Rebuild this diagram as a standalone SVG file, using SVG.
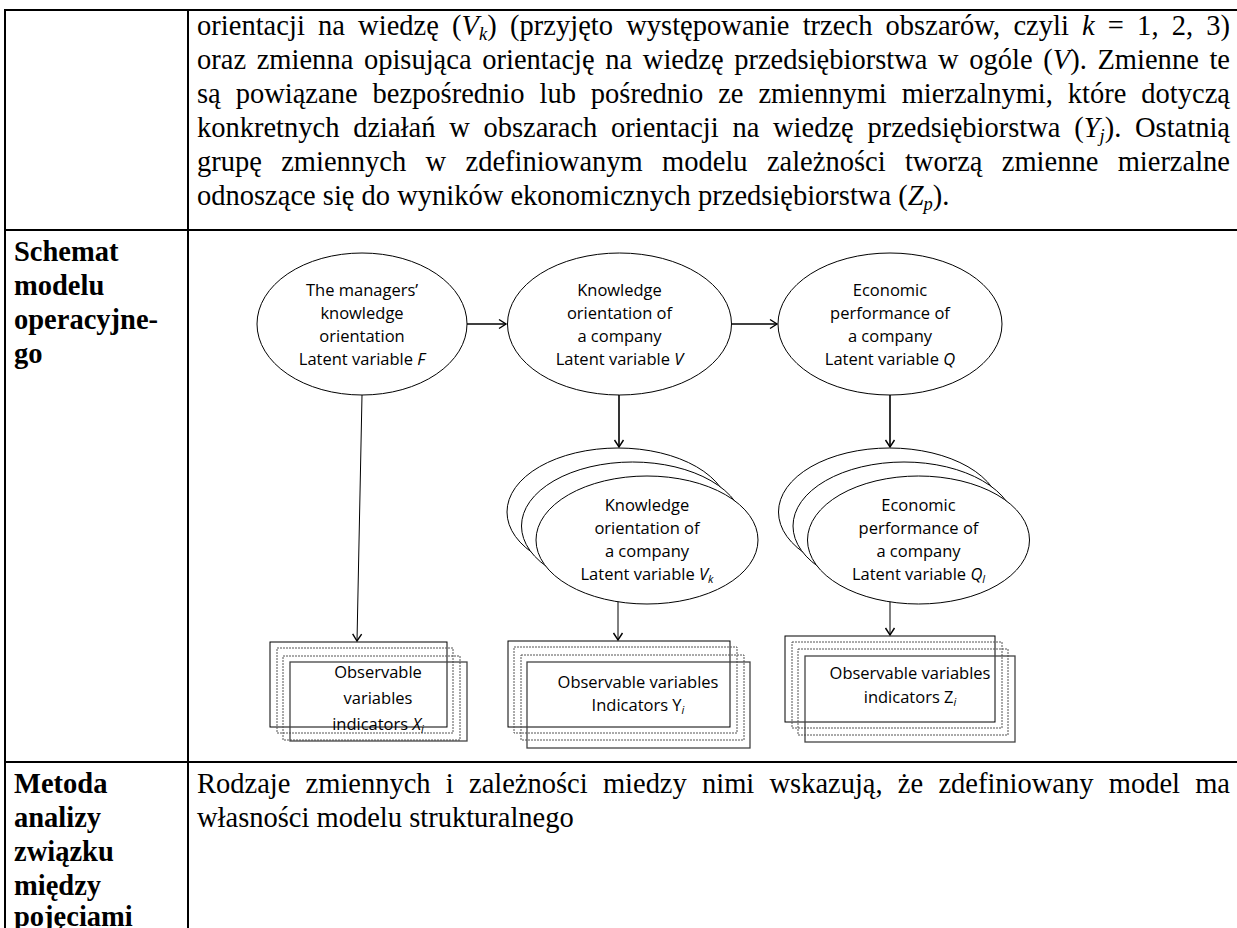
<svg xmlns="http://www.w3.org/2000/svg" width="1237" height="928" viewBox="0 0 1237 928">
<style>
.b{font-family:"Liberation Serif","Times New Roman",serif;font-size:28.5px;fill:#000}
.h{font-weight:bold}
.i{font-style:italic}
.d{font-family:"Open Sans","Noto Sans",sans-serif;font-size:16.5px;fill:#000;text-anchor:middle}
.tb{stroke:#000;stroke-width:2;fill:none}
.el{fill:#fff;stroke:#000;stroke-width:1}
.rs{fill:none;stroke:#000;stroke-width:1}
.rg{fill:none;stroke:#444;stroke-width:1.3}
.rd{fill:none;stroke:#555;stroke-width:1;stroke-dasharray:2 1}
.c1{stroke:#000;stroke-width:1.6;fill:none}
.c2{stroke:#000;stroke-width:1;fill:none}
</style>
<defs>
<marker id="ah" markerUnits="userSpaceOnUse" markerWidth="14" markerHeight="14" refX="9" refY="6" orient="auto">
<path d="M2,1.5 L9,6 L2,10.5" fill="none" stroke="#000" stroke-width="1.4"/>
</marker>
</defs>
<rect width="1237" height="928" fill="#fff"/>
<g id="table">
<line class="tb" x1="4" y1="10" x2="1237" y2="10"/>
<line class="tb" x1="4" y1="230" x2="1237" y2="230"/>
<line class="tb" x1="4" y1="762" x2="1237" y2="762"/>
<line class="tb" x1="5" y1="9" x2="5" y2="928"/>
<line class="tb" x1="188" y1="9" x2="188" y2="928"/>
</g>
<g id="text-top" class="b">
<text x="197" y="35" word-spacing="6" textLength="1033" lengthAdjust="spacing">orientacji na wiedzę (<tspan class="i">V</tspan><tspan class="i" font-size="18.5" dy="5">k</tspan><tspan dy="-5">)</tspan> (przyjęto występowanie trzech obszarów, czyli <tspan class="i">k</tspan> = 1, 2, 3)</text>
<text x="197" y="69" word-spacing="3.5" textLength="1033" lengthAdjust="spacing">oraz zmienna opisująca orientację na wiedzę przedsiębiorstwa w ogóle (<tspan class="i">V</tspan>). Zmienne te</text>
<text x="197" y="103" word-spacing="7.8" textLength="1033" lengthAdjust="spacing">są powiązane bezpośrednio lub pośrednio ze zmiennymi mierzalnymi, które dotyczą</text>
<text x="197" y="137" word-spacing="6.6" textLength="1033" lengthAdjust="spacing">konkretnych działań w obszarach orientacji na wiedzę przedsiębiorstwa (<tspan class="i">Y</tspan><tspan class="i" font-size="18.5" dy="5">j</tspan><tspan dy="-5">). Ostatnią</tspan></text>
<text x="197" y="171" word-spacing="12.2" textLength="1033" lengthAdjust="spacing">grupę zmiennych w zdefiniowanym modelu zależności tworzą zmienne mierzalne</text>
<text x="197" y="205">odnoszące się do wyników ekonomicznych przedsiębiorstwa (<tspan class="i">Z</tspan><tspan class="i" font-size="18.5" dy="5">p</tspan><tspan dy="-5">).</tspan></text>
</g>
<g id="label-schemat" class="b h">
<text x="14" y="261">Schemat</text>
<text x="14" y="295">modelu</text>
<text x="14" y="329">operacyjne-</text>
<text x="14" y="363">go</text>
</g>
<g id="label-metoda" class="b h">
<text x="14" y="793">Metoda</text>
<text x="14" y="827">analizy</text>
<text x="14" y="861">związku</text>
<text x="14" y="895">między</text>
<text x="14" y="926">pojęciami</text>
</g>
<g id="text-bottom" class="b">
<text x="197" y="793" word-spacing="8.1" textLength="1033" lengthAdjust="spacing">Rodzaje zmiennych i zależności miedzy nimi wskazują, że zdefiniowany model ma</text>
<text x="197" y="827">własności modelu strukturalnego</text>
</g>
<g id="connectors">
<line class="c1" x1="467" y1="324" x2="506" y2="324" marker-end="url(#ah)"/>
<line class="c1" x1="732" y1="324" x2="777" y2="324" marker-end="url(#ah)"/>
<line class="c1" x1="619" y1="395" x2="619" y2="447" marker-end="url(#ah)"/>
<line class="c1" x1="890" y1="395" x2="890" y2="447" marker-end="url(#ah)"/>
<line class="c2" x1="362" y1="395" x2="357" y2="641" marker-end="url(#ah)"/>
<line class="c2" x1="618" y1="601" x2="618" y2="640" marker-end="url(#ah)"/>
<line class="c2" x1="890" y1="601" x2="890" y2="635" marker-end="url(#ah)"/>
</g>
<g id="node-F">
<ellipse class="el" cx="362" cy="324" rx="105" ry="71"/>
<text class="d" x="362" y="296">The managers’</text>
<text class="d" x="362" y="319">knowledge</text>
<text class="d" x="362" y="342">orientation</text>
<text class="d" x="362" y="365">Latent variable <tspan font-style="italic">F</tspan></text>
</g>
<g id="node-V">
<ellipse class="el" cx="619.5" cy="324" rx="112" ry="71"/>
<text class="d" x="619.5" y="296">Knowledge</text>
<text class="d" x="619.5" y="319">orientation of</text>
<text class="d" x="619.5" y="342">a company</text>
<text class="d" x="619.5" y="365">Latent variable <tspan font-style="italic">V</tspan></text>
</g>
<g id="node-Q">
<ellipse class="el" cx="890" cy="324" rx="112" ry="71"/>
<text class="d" x="890" y="296">Economic</text>
<text class="d" x="890" y="319">performance of</text>
<text class="d" x="890" y="342">a company</text>
<text class="d" x="890" y="365">Latent variable <tspan font-style="italic">Q</tspan></text>
</g>
<g id="node-Vk">
<ellipse class="el" cx="618" cy="512" rx="111" ry="64"/>
<ellipse class="el" cx="632.5" cy="526" rx="111" ry="64"/>
<ellipse class="el" cx="647" cy="540" rx="111" ry="64"/>
<text class="d" x="647" y="511">Knowledge</text>
<text class="d" x="647" y="534">orientation of</text>
<text class="d" x="647" y="557">a company</text>
<text class="d" x="647" y="580">Latent variable <tspan font-style="italic">V</tspan><tspan font-style="italic" font-size="11" dy="3">k</tspan></text>
</g>
<g id="node-Ql">
<ellipse class="el" cx="889.5" cy="512" rx="111" ry="64"/>
<ellipse class="el" cx="904" cy="526" rx="111" ry="64"/>
<ellipse class="el" cx="918.5" cy="540" rx="111" ry="64"/>
<text class="d" x="918.5" y="511">Economic</text>
<text class="d" x="918.5" y="534">performance of</text>
<text class="d" x="918.5" y="557">a company</text>
<text class="d" x="918.5" y="580">Latent variable <tspan font-style="italic">Q</tspan><tspan font-style="italic" font-size="11" dy="3">l</tspan></text>
</g>
<g id="node-X">
<rect class="rs" x="270" y="642" width="177" height="85"/>
<rect class="rd" x="277" y="648" width="176" height="85"/>
<rect class="rd" x="283" y="656" width="177" height="84"/>
<rect class="rg" x="290" y="662" width="177" height="79"/>
<text class="d" x="378" y="678">Observable</text>
<text class="d" x="378" y="704">variables</text>
<text class="d" x="378" y="730">indicators <tspan font-style="italic">X</tspan><tspan font-style="italic" font-size="11" dy="3">i</tspan></text>
</g>
<g id="node-Y">
<rect class="rs" x="508" y="641" width="222" height="86"/>
<rect class="rd" x="514" y="647" width="223" height="86"/>
<rect class="rd" x="521" y="655" width="223" height="85"/>
<rect class="rg" x="527" y="662" width="223" height="86"/>
<text class="d" x="638" y="688">Observable variables</text>
<text class="d" x="638" y="711">Indicators Y<tspan font-style="italic" font-size="11" dy="3">i</tspan></text>
</g>
<g id="node-Z">
<rect class="rs" x="785" y="636" width="210" height="86"/>
<rect class="rd" x="792" y="642" width="210" height="86"/>
<rect class="rd" x="798" y="649" width="210" height="86"/>
<rect class="rg" x="805" y="656" width="210" height="86"/>
<text class="d" x="910" y="679">Observable variables</text>
<text class="d" x="910" y="703">indicators Z<tspan font-style="italic" font-size="11" dy="3">i</tspan></text>
</g>
</svg>
